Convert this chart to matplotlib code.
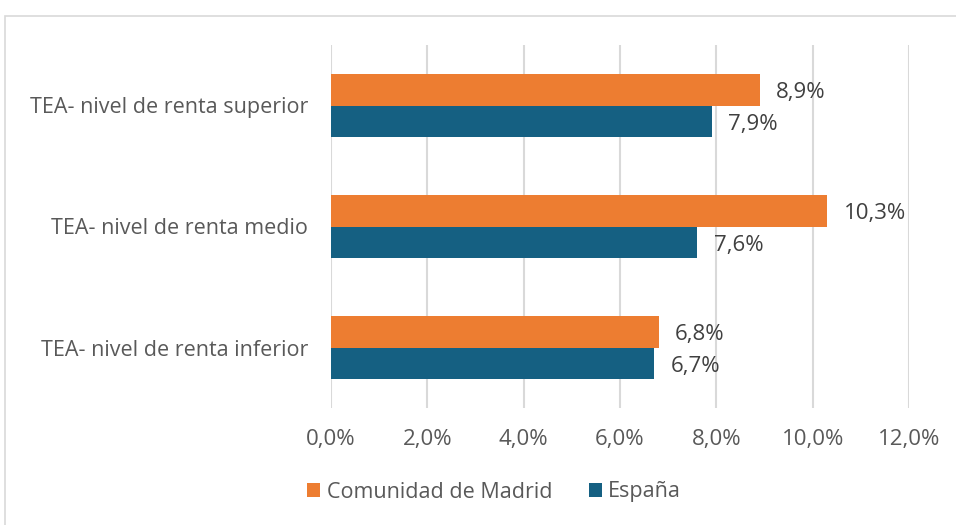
import matplotlib
matplotlib.use("Agg")
import matplotlib.pyplot as plt
from matplotlib.patches import Rectangle
import numpy as np

# Data (bottom to top as drawn)
categories = ["TEA- nivel de renta inferior", "TEA- nivel de renta medio", "TEA- nivel de renta superior"]
madrid = [6.8, 10.3, 8.9]
espana = [6.7, 7.6, 7.9]
series_names = ["Comunidad de Madrid", "España"]
xticks = [0, 2, 4, 6, 8, 10, 12]

ORANGE = "#ED7D31"
BLUE = "#156082"
GREY_TEXT = "#595959"
GRID = "#D9D9D9"

plt.rcParams['font.family'] = ['Open Sans', 'DejaVu Sans']

def fmt(v):
    return f"{v:.1f}".replace(".", ",") + "%"

def main():
    fig = plt.figure(figsize=(9.56, 5.25), dpi=100)
    ax = fig.add_axes([331 / 956, 1 - 408 / 525, (909 - 331) / 956, (408 - 45) / 525])

    y = np.arange(len(categories))
    h = 0.26
    b1 = ax.barh(y + h / 2, madrid, height=h, color=ORANGE, label=series_names[0], zorder=3)
    b2 = ax.barh(y - h / 2, espana, height=h, color=BLUE, label=series_names[1], zorder=3)

    # value labels
    for bars, vals in ((b1, madrid), (b2, espana)):
        for rect, v in zip(bars, vals):
            ax.annotate(fmt(v), (v, rect.get_y() + rect.get_height() / 2),
                        xytext=(12, -2), textcoords="offset points",
                        va="center", ha="left", fontsize=16, color="#404040")

    ax.set_xlim(0, 12)
    ax.set_ylim(-0.5, 2.5)
    ax.set_xticks(xticks)
    ax.set_xticklabels([fmt(t) for t in xticks], fontsize=16, color=GREY_TEXT)
    ax.set_yticks(y)
    ax.set_yticklabels(categories, fontsize=15.5, color=GREY_TEXT)
    ax.tick_params(axis="both", length=0)
    ax.tick_params(axis="x", pad=15)
    ax.tick_params(axis="y", pad=16.5)
    for s in ax.spines.values():
        s.set_visible(False)
    ax.grid(axis="x", color=GRID, linewidth=1.5, zorder=0)

    leg = fig.legend(handles=[b1, b2], loc="center", bbox_to_anchor=(0.517, 1 - 492 / 525),
                     ncol=2, frameon=False, fontsize=15.5, handlelength=0.6, handleheight=0.6,
                     handletextpad=0.3, columnspacing=1.7)
    for t in leg.get_texts():
        t.set_color(GREY_TEXT)

    # chart area border
    fig.patches.append(Rectangle((5 / 956, -0.1), 1.2, 1.1 - 16 / 525,
                                 transform=fig.transFigure, fill=False,
                                 edgecolor=GRID, linewidth=1.2))

    fig.savefig("out.png", dpi=100)

if __name__ == "__main__":
    main()
